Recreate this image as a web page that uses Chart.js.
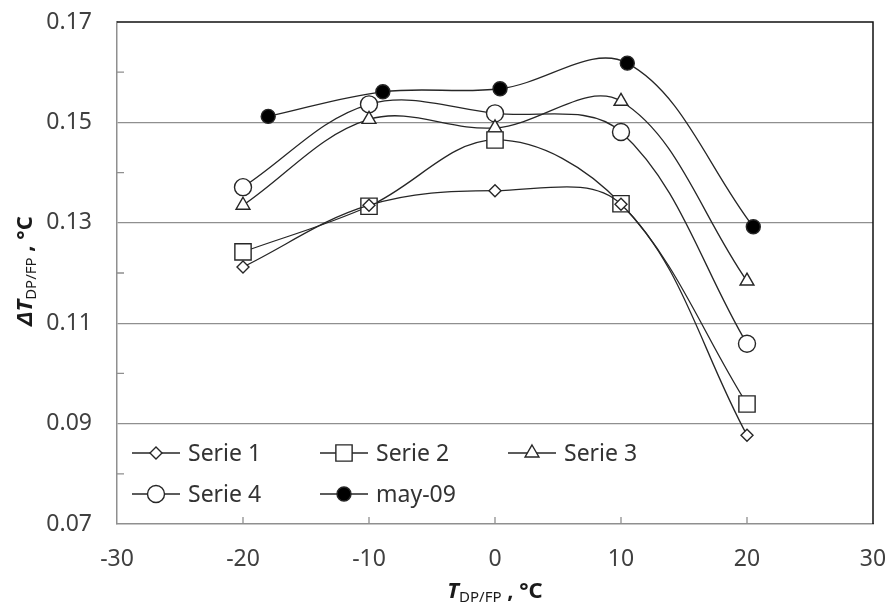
<!DOCTYPE html>
<html>
<head>
<meta charset="utf-8">
<script src="https://cdn.jsdelivr.net/npm/chart.js@4.4.1/dist/chart.umd.min.js"></script>
<style>
    body { margin: 0; background: #fff; }
    #wrap { width: 890px; height: 614px; }
</style>
</head>
<body>
<div id="wrap"><canvas id="chart" width="890" height="614"></canvas></div>
<script>
// values
var tempX = [-20, -10, 0, 10, 20];
var may09X = [-18, -8.9, 0.4, 10.5, 20.5];

var serie1 = [0.1212, 0.1335, 0.1364, 0.1337, 0.0877];
var serie2 = [0.1242, 0.1333, 0.1465, 0.1338, 0.0939];
var serie3 = [0.1335, 0.1506, 0.1489, 0.1542, 0.1184];
var serie4 = [0.1371, 0.1536, 0.1518, 0.1481, 0.1059];
var may09 = [0.1512, 0.1561, 0.1567, 0.1618, 0.1292];

var seriesNames = ['Serie 1', 'Serie 2', 'Serie 3', 'Serie 4', 'may-09'];
var xTicks = [-30, -20, -10, 0, 10, 20, 30];
var yTicks = [0.07, 0.09, 0.11, 0.13, 0.15, 0.17];
var yMinorTicks = [0.08, 0.10, 0.12, 0.14, 0.16];

var FONT = '"Noto Sans", "Open Sans", sans-serif';
var INK = '#262626';
var GRID = '#8f8f8f';

function toPoints(xs, ys) {
    return xs.map(function (x, i) { return { x: x, y: ys[i] }; });
}

function makeSet(name, xs, ys, style, radius, fill) {
    return {
        label: name,
        data: toPoints(xs, ys),
        showLine: true,
        tension: 0.36,
        borderColor: INK,
        borderWidth: 1.3,
        pointStyle: style,
        pointRadius: radius,
        pointHoverRadius: radius,
        pointBackgroundColor: fill,
        pointBorderColor: INK,
        pointBorderWidth: 1.4
    };
}

var datasets = [
    makeSet(seriesNames[0], tempX, serie1, 'rectRot', 6, '#fff'),
    makeSet(seriesNames[1], tempX, serie2, 'rect', 11.5, '#fff'),
    makeSet(seriesNames[2], tempX, serie3, 'triangle', 8, '#fff'),
    makeSet(seriesNames[3], tempX, serie4, 'circle', 8.5, '#fff'),
    makeSet(seriesNames[4], may09X, may09, 'circle', 7, '#000')
];

// frame, inward ticks, legend inside the plot and the axis titles with subscripts
var extras = {
    id: 'extras',
    afterDraw: function (chart) {
        var ctx = chart.ctx;
        var area = chart.chartArea;
        var xs = chart.scales.x;
        var ys = chart.scales.y;
        ctx.save();

        // dark top and right border
        ctx.strokeStyle = '#111';
        ctx.lineWidth = 1.5;
        ctx.beginPath();
        ctx.moveTo(area.left, area.top);
        ctx.lineTo(area.right, area.top);
        ctx.lineTo(area.right, area.bottom);
        ctx.stroke();

        // inward tick marks
        ctx.strokeStyle = GRID;
        ctx.lineWidth = 1.3;
        ctx.beginPath();
        xTicks.slice(1, -1).forEach(function (v) {
            var px = xs.getPixelForValue(v);
            ctx.moveTo(px, area.bottom);
            ctx.lineTo(px, area.bottom - 7);
        });
        yMinorTicks.forEach(function (v) {
            var py = ys.getPixelForValue(v);
            ctx.moveTo(area.left, py);
            ctx.lineTo(area.left + 7, py);
        });
        ctx.stroke();

        // legend
        var rows = [[0, 1, 2], [3, 4]];
        var colX = [132, 320, 508];
        var rowY = [453, 494];
        ctx.font = '23px ' + FONT;
        ctx.textBaseline = 'middle';
        ctx.textAlign = 'left';
        rows.forEach(function (row, r) {
            row.forEach(function (di, c) {
                var ds = datasets[di];
                var x0 = colX[c];
                var y0 = rowY[r];
                ctx.strokeStyle = INK;
                ctx.lineWidth = 1.3;
                ctx.beginPath();
                ctx.moveTo(x0, y0);
                ctx.lineTo(x0 + 48, y0);
                ctx.stroke();
                ctx.fillStyle = ds.pointBackgroundColor;
                ctx.lineWidth = 1.4;
                Chart.helpers.drawPoint(ctx, {
                    pointStyle: ds.pointStyle,
                    radius: ds.pointRadius,
                    rotation: 0,
                    borderWidth: 1.4
                }, x0 + 24, y0);
                ctx.fillStyle = '#333';
                ctx.fillText(ds.label, x0 + 56, y0 + 1);
            });
        });

        // x axis title: T(DP/FP) , °C
        drawTitle(ctx, (area.left + area.right) / 2, 598);

        // y axis title, rotated
        ctx.save();
        ctx.translate(32, (area.top + area.bottom) / 2 - 2);
        ctx.rotate(-Math.PI / 2);
        drawTitle(ctx, 0, 0, '\u0394');
        ctx.restore();

        ctx.restore();
    }
};

function drawTitle(ctx, cx, baseY, prefix) {
    var parts = [
        { t: (prefix || '') + 'T', f: 'italic bold 22px ' + FONT, dy: 0 },
        { t: 'DP/FP', f: '15px ' + FONT, dy: 4 },
        { t: ' , \u00b0C', f: 'bold 22px ' + FONT, dy: 0 }
    ];
    var total = 0;
    parts.forEach(function (p) {
        ctx.font = p.f;
        p.w = ctx.measureText(p.t).width;
        total += p.w;
    });
    var x = cx - total / 2;
    ctx.fillStyle = '#1a1a1a';
    ctx.textAlign = 'left';
    ctx.textBaseline = 'alphabetic';
    parts.forEach(function (p) {
        ctx.font = p.f;
        ctx.fillText(p.t, x, baseY + p.dy);
        x += p.w;
    });
}

new Chart(document.getElementById('chart').getContext('2d'), {
    type: 'scatter',
    data: { datasets: datasets },
    options: {
        responsive: false,
        animation: false,
        layout: { padding: { top: 22, right: 17, left: 0, bottom: 0 } },
        plugins: {
            legend: { display: false },
            tooltip: { enabled: false }
        },
        scales: {
            x: {
                type: 'linear',
                min: xTicks[0],
                max: xTicks[xTicks.length - 1],
                afterFit: function (scale) {
                    scale.height = 90;
                    scale.paddingLeft = 0;
                    scale.paddingRight = 0;
                },
                afterBuildTicks: function (scale) {
                    scale.ticks = xTicks.map(function (v) { return { value: v }; });
                },
                grid: { display: false, drawTicks: false },
                border: { display: true, color: GRID, width: 1.5 },
                ticks: {
                    padding: 22,
                    color: '#404040',
                    font: { family: FONT, size: 23 }
                }
            },
            y: {
                type: 'linear',
                min: yTicks[0],
                max: yTicks[yTicks.length - 1],
                afterFit: function (scale) {
                    scale.width = 117;
                    scale.paddingTop = 0;
                    scale.paddingBottom = 0;
                },
                afterBuildTicks: function (scale) {
                    scale.ticks = yTicks.map(function (v) { return { value: v }; });
                },
                grid: {
                    drawTicks: false,
                    lineWidth: 1.3,
                    color: function (c) {
                        var v = c.tick ? c.tick.value : null;
                        if (v === null || v <= yTicks[0] + 1e-6 || v >= yTicks[yTicks.length - 1] - 1e-6) {
                            return 'rgba(0,0,0,0)';
                        }
                        return GRID;
                    }
                },
                border: { display: true, color: GRID, width: 1.5 },
                ticks: {
                    padding: 25,
                    color: '#404040',
                    font: { family: FONT, size: 23 },
                    callback: function (v) { return Number(v).toFixed(2); }
                }
            }
        }
    },
    plugins: [extras]
});
</script>
</body>
</html>
